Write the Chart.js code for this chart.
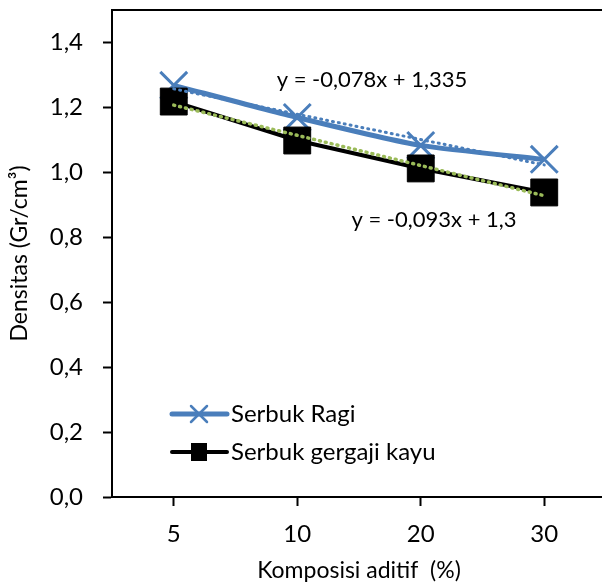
<!DOCTYPE html>
<html>
<head>
<meta charset="utf-8">
<script src="https://cdn.jsdelivr.net/npm/chart.js@4"></script>
<style>
  html, body { margin: 0; padding: 0; background: #fff; overflow: hidden; }
  #wrap { width: 620px; height: 584px; }
</style>
</head>
<body>
<div id="wrap"><canvas id="densChart" width="620" height="584"></canvas></div>
<script>
// Komposisi aditif (%)
const categories = ['5', '10', '20', '30'];
// Densitas (Gr/cm3)
const ragiValues = [1.268, 1.169, 1.083, 1.040];
const gergajiValues = [1.218, 1.098, 1.012, 0.938];
// trendlines
const ragiTrend = [1.257, 1.179, 1.101, 1.023];
const gergajiTrend = [1.207, 1.114, 1.021, 0.928];
const yTicks = [0, 0.2, 0.4, 0.6, 0.8, 1.0, 1.2, 1.4];

const blue = '#4a7ebb';
const green = '#9bbb59';
const fontFam = 'Lato, "Open Sans", sans-serif';

// box around plot, equations and the legend inside the plot
const extras = {
  id: 'extras',
  afterDatasetsDraw(chart) {
    const ctx = chart.ctx;
    const a = chart.chartArea;
    ctx.save();
    ctx.strokeStyle = '#000';
    ctx.lineWidth = 2;
    ctx.beginPath();
    ctx.moveTo(a.left, a.bottom);
    ctx.lineTo(a.left, a.top);
    ctx.lineTo(a.right, a.top);
    ctx.lineTo(a.right, a.bottom);
    ctx.stroke();

    ctx.fillStyle = '#000';
    ctx.font = '22px ' + fontFam;
    ctx.textAlign = 'center';
    ctx.textBaseline = 'middle';
    ctx.fillText('y = -0,078x + 1,335', 372, 80);
    ctx.fillText('y = -0,093x + 1,3', 434, 220);

    // legend
    const items = [
      { label: 'Serbuk Ragi', color: blue, width: 5, y: 414, marker: 'x' },
      { label: 'Serbuk gergaji kayu', color: '#000', width: 4, y: 452, marker: 'sq' }
    ];
    items.forEach(it => {
      ctx.strokeStyle = it.color;
      ctx.lineWidth = it.width;
      ctx.lineCap = 'round';
      ctx.beginPath();
      ctx.moveTo(172, it.y);
      ctx.lineTo(227, it.y);
      ctx.stroke();
      if (it.marker === 'x') {
        ctx.lineWidth = 2.5;
        ctx.beginPath();
        ctx.moveTo(191, it.y - 8); ctx.lineTo(207, it.y + 8);
        ctx.moveTo(207, it.y - 8); ctx.lineTo(191, it.y + 8);
        ctx.stroke();
      } else {
        ctx.fillStyle = '#000';
        ctx.fillRect(191, it.y - 9, 16, 18);
      }
      ctx.fillStyle = '#000';
      ctx.font = '24px ' + fontFam;
      ctx.textAlign = 'left';
      ctx.fillText(it.label, 231, it.y);
    });
    ctx.restore();
  }
};

const ctx = document.getElementById('densChart').getContext('2d');
new Chart(ctx, {
  type: 'line',
  data: {
    labels: categories,
    datasets: [{
      label: 'Linear (Serbuk Ragi)',
      data: ragiTrend,
      borderColor: blue,
      borderWidth: 3,
      borderDash: [1, 5],
      borderCapStyle: 'round',
      pointRadius: 0,
      order: 0
    }, {
      label: 'Linear (Serbuk gergaji kayu)',
      data: gergajiTrend,
      borderColor: green,
      borderWidth: 3.5,
      borderDash: [1, 5],
      borderCapStyle: 'round',
      pointRadius: 0,
      order: 0
    }, {
      label: 'Serbuk Ragi',
      data: ragiValues,
      borderColor: blue,
      borderWidth: 5,
      tension: 0.2,
      pointStyle: 'crossRot',
      pointRadius: 19,
      pointBorderWidth: 3,
      pointBorderColor: blue,
      order: 2
    }, {
      label: 'Serbuk gergaji kayu',
      data: gergajiValues,
      borderColor: '#000',
      borderWidth: 4,
      pointStyle: 'rect',
      pointRadius: 19,
      pointBackgroundColor: '#000',
      pointBorderColor: '#000',
      pointBorderWidth: 1,
      order: 1
    }]
  },
  options: {
    responsive: false,
    animation: false,
    layout: { autoPadding: false, padding: { left: 0, top: 10, right: 14, bottom: 0 } },
    plugins: {
      legend: { display: false },
      tooltip: { enabled: false }
    },
    scales: {
      x: {
        offset: true,
        grid: {
          offset: false,
          drawOnChartArea: false,
          drawTicks: true,
          tickLength: 9,
          tickWidth: 2,
          tickColor: '#000'
        },
        border: { color: '#000', width: 2 },
        ticks: { color: '#000', font: { family: fontFam, size: 24 }, padding: 14 },
        title: {
          display: true,
          text: 'Komposisi aditif  (%)',
          color: '#000',
          font: { family: fontFam, size: 23 },
          padding: { top: 0, bottom: 0 }
        },
        afterFit(scale) {
          scale.height = 87;
          scale.paddingLeft = 0;
          scale.paddingRight = 0;
        }
      },
      y: {
        min: 0,
        max: 1.5,
        afterBuildTicks(scale) { scale.ticks = yTicks.map(v => ({ value: v })); },
        grid: {
          drawOnChartArea: false,
          drawTicks: true,
          tickLength: 9,
          tickWidth: 2,
          tickColor: '#000'
        },
        border: { color: '#000', width: 2 },
        ticks: {
          color: '#000',
          font: { family: fontFam, size: 24 },
          padding: 20,
          callback: v => v.toFixed(1).replace('.', ',')
        },
        title: {
          display: true,
          text: 'Densitas (Gr/cm³)',
          color: '#000',
          font: { family: fontFam, size: 23 },
          padding: { top: 6, bottom: 0 }
        },
        afterFit(scale) {
          scale.width = 112;
          scale.paddingTop = 0;
          scale.paddingBottom = 0;
        }
      }
    }
  },
  plugins: [extras]
});
</script>
</body>
</html>
